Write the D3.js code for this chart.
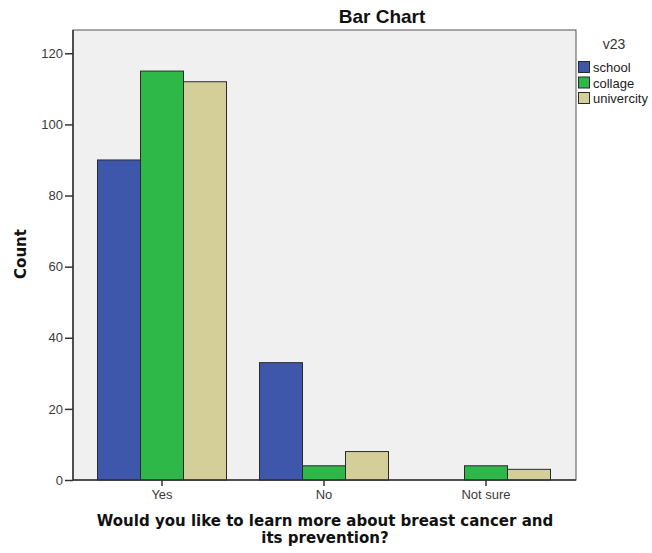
<!DOCTYPE html>
<html><head><meta charset="utf-8">
<script src="https://cdn.jsdelivr.net/npm/d3@7"></script>
<style>body{margin:0;background:#fff}svg{display:block}</style>
</head><body>
<svg id="c" width="652" height="553"></svg>
<script>
const categories = ["Yes", "No", "Not sure"];
const seriesNames = ["school", "collage", "univercity"];
const school = [90, 33, 0];
const collage = [115, 4, 4];
const univercity = [112, 8, 3];
const yTicks = [0, 20, 40, 60, 80, 100, 120];
const colors = ["#3F57AB", "#2EB847", "#D4CE98"];

const values = [school, collage, univercity];
const svg = d3.select("#c");
const L = 73, R = 576, T = 30, B = 480;

const x = d3.scaleBand().domain(categories).range([81, 567]);
const xs = d3.scaleBand().domain(seriesNames).range([0, 129]);
const y = d3.scaleLinear().domain([0, 120]).range([B, 53.3]);

svg.append("rect").attr("x", L).attr("y", T).attr("width", R - L).attr("height", B - T)
  .attr("fill", "#F0F0F0").attr("stroke", "#555").attr("stroke-width", 1);

const groups = svg.append("g");
categories.forEach((c, i) => {
  seriesNames.forEach((s, j) => {
    const v = values[j][i];
    if (v <= 0) return;
    const x0 = x(c) + x.bandwidth() / 2 - 64.5 + xs(s);
    groups.append("rect")
      .attr("x", x0).attr("y", y(v))
      .attr("width", xs.bandwidth()).attr("height", y(0) - y(v))
      .attr("fill", colors[j]).attr("stroke", "#2a2a2a").attr("stroke-width", 1);
  });
});

const tickFont = "Arial, 'Liberation Sans', sans-serif";
// axes
const yAxis = d3.axisLeft(y).tickValues(yTicks).tickSize(8).tickPadding(2).tickSizeOuter(0);
const gy = svg.append("g").attr("transform", `translate(${L},0)`).call(yAxis);
gy.select(".domain").remove();
gy.selectAll("line").attr("stroke", "#333").attr("stroke-width", 1.5);
gy.selectAll("text").attr("font-family", tickFont).attr("font-size", 13).attr("fill", "#3a3a3a");

const xAxis = d3.axisBottom(x).tickSize(6).tickPadding(4).tickSizeOuter(0);
const gx = svg.append("g").attr("transform", `translate(0,${B})`).call(xAxis);
gx.select(".domain").remove();
gx.selectAll("line").attr("stroke", "#333").attr("stroke-width", 1.5);
gx.selectAll("text").attr("font-family", tickFont).attr("font-size", 13).attr("fill", "#3a3a3a");

svg.append("line").attr("x1", L).attr("x2", R).attr("y1", B).attr("y2", B).attr("stroke", "#333").attr("stroke-width", 1.5);
svg.append("line").attr("x1", L).attr("x2", L).attr("y1", T).attr("y2", B).attr("stroke", "#333").attr("stroke-width", 1.5);

// title
svg.append("text").attr("x", 382).attr("y", 23).attr("text-anchor", "middle")
  .attr("font-family", tickFont).attr("font-weight", "bold").attr("font-size", 19)
  .attr("fill", "#111").text("Bar Chart");

// y label
svg.append("text").attr("transform", "translate(26,254) rotate(-90)").attr("text-anchor", "middle")
  .attr("font-family", "'DejaVu Sans', Verdana, sans-serif").attr("font-weight", "bold").attr("font-size", 15)
  .attr("fill", "#111").text("Count");

// x label
const xl = svg.append("text").attr("text-anchor", "middle")
  .attr("font-family", "'DejaVu Sans', Verdana, sans-serif").attr("font-weight", "bold").attr("font-size", 15)
  .attr("fill", "#111");
xl.append("tspan").attr("x", 325).attr("y", 526).text("Would you like to learn more about breast cancer and");
xl.append("tspan").attr("x", 325).attr("y", 543).text("its prevention?");

// legend
svg.append("text").attr("x", 614).attr("y", 49).attr("text-anchor", "middle")
  .attr("font-family", tickFont).attr("font-size", 14).attr("fill", "#333").text("v23");
const lg = svg.append("g");
seriesNames.forEach((s, j) => {
  lg.append("rect").attr("x", 578.5).attr("y", 61.5 + j * 15.5).attr("width", 11).attr("height", 11)
    .attr("fill", colors[j]).attr("stroke", "#2a2a2a").attr("stroke-width", 1);
  lg.append("text").attr("x", 593).attr("y", 72 + j * 15.5)
    .attr("font-family", tickFont).attr("font-size", 13).attr("fill", "#222").text(s);
});
</script>
</body></html>
